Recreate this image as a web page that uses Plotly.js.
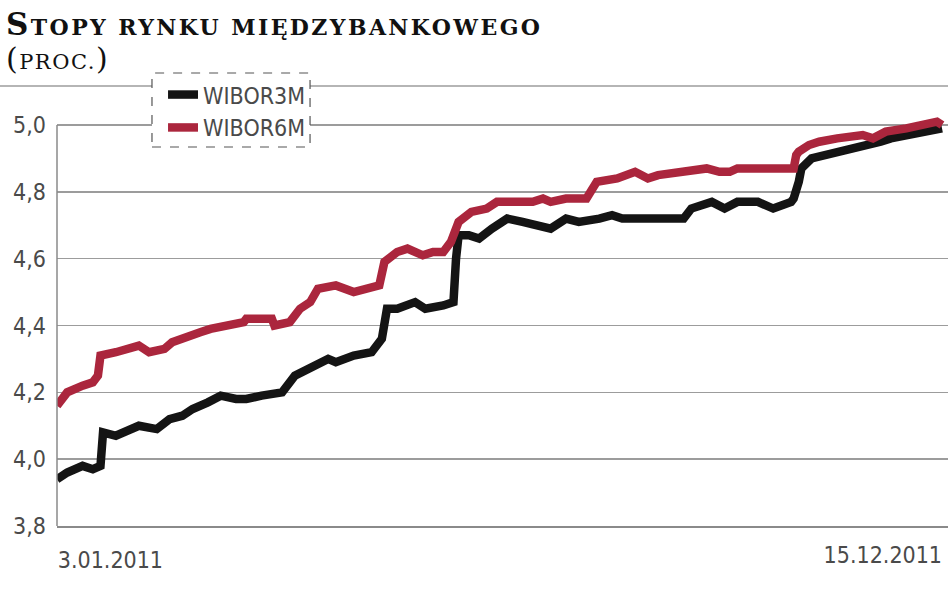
<!DOCTYPE html>
<html>
<head>
<meta charset="utf-8">
<script src="https://cdn.plot.ly/plotly-3.0.1.min.js"></script>
<style>html,body{margin:0;padding:0;background:#fff;} #chart{width:948px;height:593px;}</style>
</head>
<body>
<div id="chart"></div>
<script>
// ---- data ----
const seriesNames = ['WIBOR3M', 'WIBOR6M'];

const dates3M = ['2011-01-03','2011-01-07','2011-01-13','2011-01-17','2011-01-20','2011-01-21','2011-01-26','2011-01-31',
  '2011-02-04','2011-02-11','2011-02-16','2011-02-21','2011-02-25',
  '2011-03-03','2011-03-08','2011-03-14','2011-03-18','2011-03-24',
  '2011-04-01','2011-04-06','2011-04-12','2011-04-19','2011-04-22','2011-04-29',
  '2011-05-06','2011-05-10','2011-05-12','2011-05-16','2011-05-23','2011-05-27',
  '2011-06-03','2011-06-07','2011-06-08','2011-06-09','2011-06-13','2011-06-17','2011-06-22','2011-06-28',
  '2011-07-04','2011-07-11','2011-07-15','2011-07-21','2011-07-26',
  '2011-08-03','2011-08-08','2011-08-12','2011-08-18','2011-08-29',
  '2011-09-05','2011-09-08','2011-09-16','2011-09-21','2011-09-26',
  '2011-10-04','2011-10-10','2011-10-17','2011-10-18','2011-10-20','2011-10-21','2011-10-25','2011-10-31',
  '2011-11-04','2011-11-10','2011-11-15','2011-11-21','2011-11-25',
  '2011-12-01','2011-12-06','2011-12-13','2011-12-15'];
const wibor3M = [3.94,3.96,3.98,3.97,3.98,4.08,4.07,4.09,
  4.10,4.09,4.12,4.13,4.15,
  4.17,4.19,4.18,4.18,4.19,
  4.20,4.25,4.27,4.30,4.29,4.31,
  4.32,4.36,4.45,4.45,4.47,4.45,
  4.46,4.47,4.60,4.67,4.67,4.66,4.69,4.72,
  4.71,4.70,4.69,4.72,4.71,
  4.72,4.73,4.72,4.72,4.72,
  4.72,4.75,4.77,4.75,4.77,
  4.77,4.75,4.77,4.78,4.83,4.87,4.90,4.91,
  4.92,4.93,4.94,4.95,4.96,
  4.97,4.98,4.99,4.99];

const dates6M = ['2011-01-03','2011-01-07','2011-01-13','2011-01-17','2011-01-19','2011-01-20','2011-01-26','2011-01-31',
  '2011-02-04','2011-02-08','2011-02-14','2011-02-17','2011-02-23','2011-02-28',
  '2011-03-04','2011-03-11','2011-03-17','2011-03-18','2011-03-28','2011-03-29',
  '2011-04-04','2011-04-08','2011-04-12','2011-04-15','2011-04-22','2011-04-29',
  '2011-05-04','2011-05-09','2011-05-11','2011-05-16','2011-05-20','2011-05-26','2011-05-30',
  '2011-06-03','2011-06-06','2011-06-09','2011-06-14','2011-06-20','2011-06-24','2011-06-30',
  '2011-07-08','2011-07-12','2011-07-15','2011-07-21','2011-07-29',
  '2011-08-02','2011-08-08','2011-08-10','2011-08-17','2011-08-22','2011-08-26',
  '2011-09-05','2011-09-14','2011-09-19','2011-09-23','2011-09-26',
  '2011-10-18','2011-10-19','2011-10-20','2011-10-24','2011-10-28',
  '2011-11-04','2011-11-14','2011-11-18','2011-11-23',
  '2011-12-01','2011-12-06','2011-12-13','2011-12-15'];
const wibor6M = [4.16,4.20,4.22,4.23,4.25,4.31,4.32,4.33,
  4.34,4.32,4.33,4.35,4.37,4.38,
  4.39,4.40,4.41,4.42,4.42,4.40,
  4.41,4.45,4.47,4.51,4.52,4.50,
  4.51,4.52,4.59,4.62,4.63,4.61,4.62,
  4.62,4.65,4.71,4.74,4.75,4.77,4.77,
  4.77,4.78,4.77,4.78,4.78,
  4.83,4.84,4.84,4.86,4.84,4.85,
  4.86,4.87,4.86,4.86,4.87,
  4.87,4.91,4.92,4.94,4.95,
  4.96,4.97,4.96,4.98,
  4.99,5.00,5.01,5.00];

const yTickVals = [3.8, 4.0, 4.2, 4.4, 4.6, 4.8, 5.0];
const yTickText = ['3,8', '4,0', '4,2', '4,4', '4,6', '4,8', '5,0'];
const xStartTick = '2011-01-03', xStartLabel = '3.01.2011';
const xEndTick = '2011-12-15', xEndLabel = '15.12.2011';

// ---- styling ----
const NARROW = '"DejaVu Sans Condensed", "Liberation Sans Narrow", sans-serif';
const SERIF = '"DejaVu Serif", serif';
const GRID = '#9c9c9c';
const LABEL = '#4a4a4a';

const traces = [
  {x: dates3M, y: wibor3M, name: seriesNames[0], type: 'scatter', mode: 'lines',
   line: {color: '#141414', width: 8.5, shape: 'linear'}},
  {x: dates6M, y: wibor6M, name: seriesNames[1], type: 'scatter', mode: 'lines',
   line: {color: '#ab263d', width: 8.5, shape: 'linear'}},
  // empty helper so the second (end-date label) x axis is drawn
  {x: [xEndTick], y: [null], xaxis: 'x2', type: 'scatter', mode: 'lines',
   showlegend: false, hoverinfo: 'skip', line: {width: 0}}
];

const tickFont = {family: NARROW, size: 23, color: LABEL};

const layout = {
  width: 948, height: 593,
  margin: {l: 57, r: 0, t: 85, b: 67},
  paper_bgcolor: '#ffffff', plot_bgcolor: '#ffffff',
  showlegend: true,
  legend: {x: 0.119, y: 1.027, xanchor: 'left', yanchor: 'top',
    bgcolor: 'rgba(0,0,0,0)', borderwidth: 0,
    font: {family: NARROW, size: 23, color: LABEL}, tracegroupgap: 0},
  xaxis: {type: 'date', range: ['2011-01-03', '2011-12-17 08:00'],
    tickvals: [xStartTick], ticktext: [xStartLabel], ticklabelposition: 'outside right',
    ticks: '', showgrid: false, zeroline: false,
    showline: true, linecolor: '#8a8a8a', linewidth: 1.5,
    ticklabelstandoff: 13, tickfont: tickFont},
  xaxis2: {type: 'date', overlaying: 'x', matches: 'x', side: 'bottom', anchor: 'y',
    tickvals: [xEndTick], ticktext: [xEndLabel], ticklabelposition: 'outside left',
    ticks: '', showgrid: false, zeroline: false, showline: false,
    ticklabelstandoff: 13, tickfont: tickFont},
  yaxis: {range: [3.8, 5.1197], tickvals: yTickVals, ticktext: yTickText,
    ticks: '', showgrid: true, gridcolor: GRID, gridwidth: 1.5, zeroline: false,
    showline: false, ticklabelstandoff: 10, tickfont: tickFont},
  shapes: [
    // top rule
    {type: 'line', xref: 'paper', yref: 'paper', x0: -0.064, x1: 1, y0: 0.998, y1: 0.998,
     line: {color: GRID, width: 1.5}},
    // vertical axis line from 3.8 to 5.0
    {type: 'line', xref: 'paper', yref: 'y', x0: 0, x1: 0, y0: 3.8, y1: 5.0,
     line: {color: '#8a8a8a', width: 1.5}},
    // legend dashed frame
    {type: 'rect', xref: 'paper', yref: 'paper', x0: 0.1066, x1: 0.2840, y0: 0.8594, y1: 1.0272,
     fillcolor: '#ffffff', line: {color: '#555', width: 1.2, dash: 'dash'}, layer: 'above'}
  ],
  annotations: [
    {xref: 'paper', yref: 'paper', x: -0.0595, y: 1.183, xanchor: 'left', yanchor: 'top', showarrow: false,
     text: "<b><span style='letter-spacing:2.4px'><span style='font-size:31px'>S</span>TOPY RYNKU MIĘDZYBANKOWEGO</span></b>",
     font: {family: SERIF, size: 22, color: '#111'}},
    {xref: 'paper', yref: 'paper', x: -0.0595, y: 1.104, xanchor: 'left', yanchor: 'top', showarrow: false,
     text: "<span style='letter-spacing:1.5px'><span style='font-size:30px'>(</span>PROC.<span style='font-size:30px'>)</span></span>",
     font: {family: SERIF, size: 21, color: '#111'}}
  ]
};

Plotly.newPlot('chart', traces, layout, {displayModeBar: false, staticPlot: true});
</script>
</body>
</html>
